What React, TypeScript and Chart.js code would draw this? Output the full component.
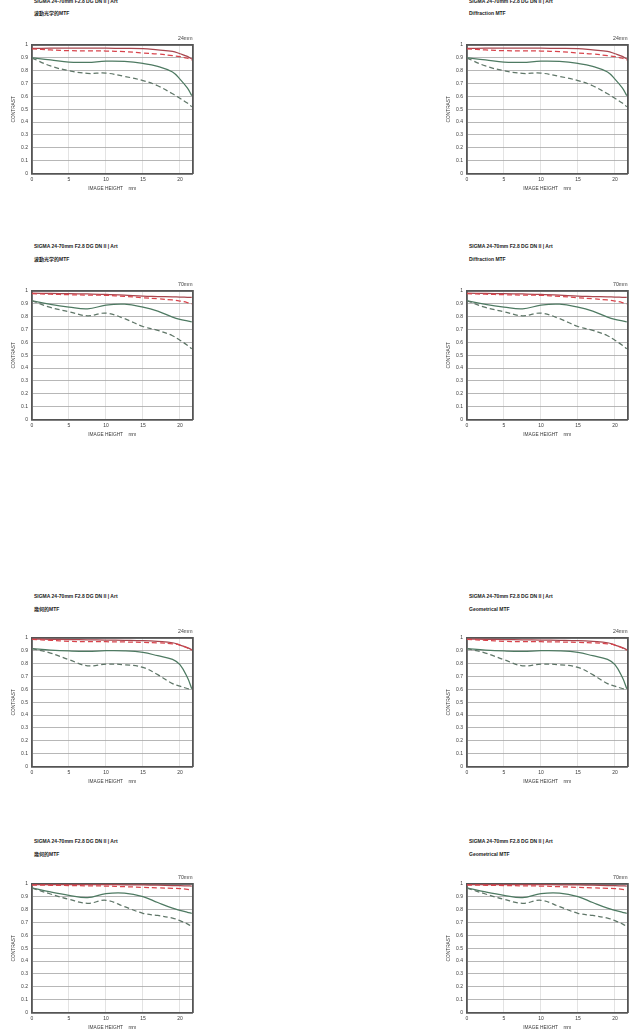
import React, { useEffect, useRef } from "react";
import { Chart, registerables } from "chart.js";

Chart.register(...registerables);

// ---------- data ----------
const IMAGE_HEIGHT = [0, 2.5, 5, 7.5, 10, 12.5, 15, 17, 19, 20, 21, 21.6];
const X_TICKS = [0, 5, 10, 15, 20];
const Y_TICKS = [0, 0.1, 0.2, 0.3, 0.4, 0.5, 0.6, 0.7, 0.8, 0.9, 1];

const PRODUCT = "SIGMA 24-70mm F2.8 DG DN II | Art";
const SUB_JP_DIFF = "波動光学的MTF";
const SUB_EN_DIFF = "Diffraction MTF";
const SUB_JP_GEO = "幾何的MTF";
const SUB_EN_GEO = "Geometrical MTF";

// 24mm, diffraction MTF
const D24_RED_S = [0.974, 0.975, 0.975, 0.975, 0.975, 0.974, 0.972, 0.962, 0.951, 0.932, 0.912, 0.891];
const D24_RED_M = [0.969, 0.962, 0.956, 0.955, 0.953, 0.948, 0.938, 0.93, 0.917, 0.91, 0.897, 0.883];
const D24_GRN_S = [0.899, 0.884, 0.866, 0.865, 0.874, 0.872, 0.857, 0.834, 0.79, 0.735, 0.666, 0.606];
const D24_GRN_M = [0.899, 0.837, 0.8, 0.779, 0.781, 0.756, 0.723, 0.683, 0.62, 0.585, 0.548, 0.52];

// 70mm, diffraction MTF
const D70_RED_S = [0.984, 0.981, 0.979, 0.977, 0.974, 0.968, 0.96, 0.957, 0.954, 0.953, 0.951, 0.95];
const D70_RED_M = [0.979, 0.975, 0.971, 0.968, 0.966, 0.958, 0.948, 0.94, 0.93, 0.922, 0.91, 0.9];
const D70_GRN_S = [0.924, 0.896, 0.875, 0.861, 0.89, 0.897, 0.875, 0.844, 0.797, 0.779, 0.767, 0.76];
const D70_GRN_M = [0.924, 0.872, 0.839, 0.807, 0.828, 0.785, 0.724, 0.694, 0.652, 0.617, 0.578, 0.55];

// 24mm, geometrical MTF
const G24_RED_S = [0.992, 0.99, 0.987, 0.986, 0.984, 0.982, 0.979, 0.973, 0.963, 0.945, 0.925, 0.909];
const G24_RED_M = [0.99, 0.982, 0.974, 0.972, 0.971, 0.969, 0.966, 0.962, 0.955, 0.945, 0.922, 0.906];
const G24_GRN_S = [0.917, 0.906, 0.899, 0.896, 0.901, 0.9, 0.888, 0.862, 0.834, 0.792, 0.694, 0.605];
const G24_GRN_M = [0.917, 0.883, 0.831, 0.784, 0.797, 0.792, 0.771, 0.715, 0.645, 0.625, 0.607, 0.6];

// 70mm, geometrical MTF
const G70_RED_S = [0.995, 0.995, 0.995, 0.995, 0.995, 0.994, 0.993, 0.991, 0.988, 0.987, 0.985, 0.984];
const G70_RED_M = [0.992, 0.99, 0.988, 0.986, 0.984, 0.979, 0.974, 0.97, 0.966, 0.964, 0.958, 0.953];
const G70_GRN_S = [0.969, 0.938, 0.912, 0.894, 0.925, 0.929, 0.902, 0.856, 0.812, 0.795, 0.78, 0.772];
const G70_GRN_M = [0.969, 0.922, 0.881, 0.85, 0.873, 0.824, 0.772, 0.755, 0.735, 0.715, 0.69, 0.668];

// ---------- styles ----------
const FONT = "'Liberation Sans', Arial, sans-serif";
const CJK = "'Liberation Sans', 'Noto Sans CJK JP', sans-serif";
const RED_S = "#a8464e";
const RED_M = "#d8444c";
const GRN_S = "#4e7a62";
const GRN_M = "#5f7668";
const TEXT = "#3a3a3a";

type Series = { redS: number[]; redM: number[]; grnS: number[]; grnM: number[] };

const SERIES_D24: Series = { redS: D24_RED_S, redM: D24_RED_M, grnS: D24_GRN_S, grnM: D24_GRN_M };
const SERIES_D70: Series = { redS: D70_RED_S, redM: D70_RED_M, grnS: D70_GRN_S, grnM: D70_GRN_M };
const SERIES_G24: Series = { redS: G24_RED_S, redM: G24_RED_M, grnS: G24_GRN_S, grnM: G24_GRN_M };
const SERIES_G70: Series = { redS: G70_RED_S, redM: G70_RED_M, grnS: G70_GRN_S, grnM: G70_GRN_M };

// layout of the 8 panels
const COL_LEFT = [0, 435];
const ROWS = [
  { plotTop: 44.5, titleY: 1.5, subY: 13.3 },
  { plotTop: 291, titleY: 246.7, subY: 259.3 },
  { plotTop: 638.3, titleY: 596, subY: 609 },
  { plotTop: 884.2, titleY: 841, subY: 854 },
];

const TOP_AXIS = 12;
const LEFT_AXIS = 32;
const RIGHT_AXIS = 7.5;
const BOTTOM_AXIS = 22.5;
const PLOT_H = 128.5;
const CANVAS_W = 200;
const CANVAS_H = TOP_AXIS + PLOT_H + BOTTOM_AXIS;

const toXY = (ys: number[]) => ys.map((y, i) => ({ x: IMAGE_HEIGHT[i], y }));

function MTFChart({ series, focal }: { series: Series; focal: string }) {
  const ref = useRef<HTMLCanvasElement | null>(null);
  useEffect(() => {
    if (!ref.current) return;
    const line = (ys: number[], color: string, dash: number[]) => ({
      data: toXY(ys),
      borderColor: color,
      borderWidth: 1.25,
      borderDash: dash,
      pointRadius: 0,
      tension: 0.4,
      fill: false,
    });
    const border = { display: true, color: "#555", width: 1.8 };
    const chart = new Chart(ref.current, {
      type: "line",
      data: {
        datasets: [
          line(series.grnM, GRN_M, [5, 3]),
          line(series.grnS, GRN_S, []),
          line(series.redM, RED_M, [5, 3]),
          line(series.redS, RED_S, []),
        ],
      },
      options: {
        responsive: false,
        animation: false,
        devicePixelRatio: 1,
        layout: { padding: 0 },
        plugins: { legend: { display: false }, tooltip: { enabled: false }, title: { display: false } },
        scales: {
          x: {
            type: "linear",
            position: "bottom",
            min: 0,
            max: 21.7,
            afterBuildTicks: (s: any) => {
              s.ticks = X_TICKS.map((v) => ({ value: v }));
            },
            ticks: { padding: 3, color: TEXT, font: { size: 5, family: FONT }, maxRotation: 0, autoSkip: false },
            grid: { color: "#dcdcdc", lineWidth: 0.8, drawTicks: false },
            border,
            title: {
              display: true,
              text: "IMAGE HEIGHT    mm",
              color: TEXT,
              font: { size: 4.8, family: FONT },
              padding: { top: 0, bottom: 4.6 },
            },
            afterFit: (s: any) => {
              s.height = BOTTOM_AXIS;
            },
          },
          y: {
            type: "linear",
            position: "left",
            min: 0,
            max: 1,
            afterBuildTicks: (s: any) => {
              s.ticks = Y_TICKS.map((v) => ({ value: v }));
            },
            ticks: {
              padding: 4,
              color: TEXT,
              font: { size: 5, family: FONT },
              callback: (v: any) => String(Math.round(Number(v) * 10) / 10),
            },
            grid: { color: "#a4a4a4", lineWidth: 0.8, drawTicks: false },
            border,
            title: {
              display: true,
              text: "CONTRAST",
              color: TEXT,
              font: { size: 4.8, family: FONT },
              padding: { top: 10.4, bottom: 0 },
            },
            afterFit: (s: any) => {
              s.width = LEFT_AXIS;
            },
          },
          x2: {
            type: "linear",
            position: "top",
            min: 0,
            max: 21.7,
            ticks: { display: false },
            grid: { display: false, drawTicks: false },
            border,
            title: {
              display: true,
              text: focal,
              align: "end",
              color: TEXT,
              font: { size: 5.2, family: FONT },
              padding: { top: 2.9, bottom: 0 },
            },
            afterFit: (s: any) => {
              s.height = TOP_AXIS;
            },
          },
          y2: {
            type: "linear",
            position: "right",
            min: 0,
            max: 1,
            ticks: { display: false },
            grid: { display: false, drawTicks: false },
            border,
            afterFit: (s: any) => {
              s.width = RIGHT_AXIS;
            },
          },
        },
      } as any,
    });
    return () => chart.destroy();
  }, [series, focal]);
  return <canvas ref={ref} width={CANVAS_W} height={CANVAS_H} style={{ display: "block" }} />;
}

function Panel({
  left,
  row,
  subtitle,
  series,
  focal,
}: {
  left: number;
  row: { plotTop: number; titleY: number; subY: number };
  subtitle: string;
  series: Series;
  focal: string;
}) {
  const textStyle: React.CSSProperties = {
    position: "absolute",
    left: left + 34,
    fontSize: 5,
    lineHeight: "5px",
    fontWeight: 700,
    color: "#222",
    whiteSpace: "nowrap",
  };
  return (
    <>
      <div style={{ ...textStyle, top: row.titleY - 2.5, fontFamily: FONT }}>{PRODUCT}</div>
      <div style={{ ...textStyle, top: row.subY - 2.5, fontFamily: CJK }}>{subtitle}</div>
      <div style={{ position: "absolute", left, top: row.plotTop - TOP_AXIS }}>
        <MTFChart series={series} focal={focal} />
      </div>
    </>
  );
}

export default function App() {
  return (
    <div
      style={{
        position: "absolute",
        left: 0,
        top: 0,
        width: 640,
        height: 1029,
        overflow: "hidden",
        background: "#fff",
      }}
    >
      <Panel left={COL_LEFT[0]} row={ROWS[0]} subtitle={SUB_JP_DIFF} series={SERIES_D24} focal="24mm" />
      <Panel left={COL_LEFT[1]} row={ROWS[0]} subtitle={SUB_EN_DIFF} series={SERIES_D24} focal="24mm" />
      <Panel left={COL_LEFT[0]} row={ROWS[1]} subtitle={SUB_JP_DIFF} series={SERIES_D70} focal="70mm" />
      <Panel left={COL_LEFT[1]} row={ROWS[1]} subtitle={SUB_EN_DIFF} series={SERIES_D70} focal="70mm" />
      <Panel left={COL_LEFT[0]} row={ROWS[2]} subtitle={SUB_JP_GEO} series={SERIES_G24} focal="24mm" />
      <Panel left={COL_LEFT[1]} row={ROWS[2]} subtitle={SUB_EN_GEO} series={SERIES_G24} focal="24mm" />
      <Panel left={COL_LEFT[0]} row={ROWS[3]} subtitle={SUB_JP_GEO} series={SERIES_G70} focal="70mm" />
      <Panel left={COL_LEFT[1]} row={ROWS[3]} subtitle={SUB_EN_GEO} series={SERIES_G70} focal="70mm" />
    </div>
  );
}
